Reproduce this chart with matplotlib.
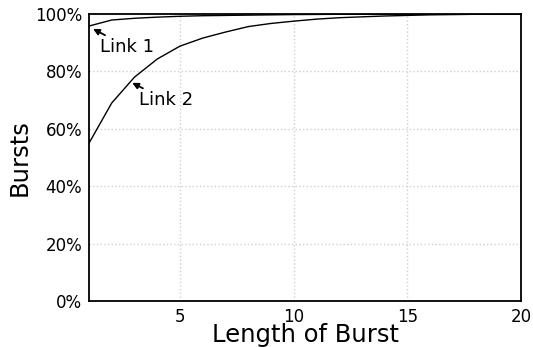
import matplotlib
matplotlib.use('Agg')
import matplotlib.pyplot as plt
from matplotlib.ticker import FuncFormatter

burst_len = [1, 2, 3, 4, 5, 6, 7, 8, 9, 10, 11, 12, 13, 14, 15, 16, 17, 18, 19, 20]
link1_pct = [95.8, 97.9, 98.5, 98.9, 99.2, 99.4, 99.5, 99.6, 99.7, 99.8,
             99.85, 99.9, 99.92, 99.95, 99.97, 99.98, 99.99, 100, 100, 100]
link2_pct = [55.0, 69.0, 78.0, 84.3, 88.8, 91.6, 93.7, 95.6, 96.7, 97.5,
             98.2, 98.7, 99.0, 99.3, 99.5, 99.7, 99.8, 99.9, 99.95, 100]

fig = plt.figure(figsize=(5.33, 3.47), dpi=100)
ax = fig.add_axes([0.167, 0.1326, 0.8105, 0.8271])

ax.plot(burst_len, link1_pct, color='black', lw=1)
ax.plot(burst_len, link2_pct, color='black', lw=1)

ax.set_xlim(1, 20)
ax.set_ylim(0, 100)
ax.set_xticks([5, 10, 15, 20])
ax.set_yticks([0, 20, 40, 60, 80, 100])
ax.yaxis.set_major_formatter(FuncFormatter(lambda v, p: '%d%%' % v))
ax.tick_params(length=0, labelsize=12, pad=5)
ax.grid(True, color='#d0d0d0', linestyle=':', lw=1)
for s in ax.spines.values():
    s.set_linewidth(1.3)

arrow = dict(arrowstyle='-|>', mutation_scale=9, facecolor='navy',
             edgecolor='black', lw=1.3, shrinkA=0, shrinkB=0)
ax.annotate('Link 1', xy=(1.18, 94.8), xytext=(1.5, 88.5), fontsize=13,
            va='center', ha='left', arrowprops=arrow)
ax.annotate('Link 2', xy=(2.9, 76), xytext=(3.2, 70), fontsize=13,
            va='center', ha='left', arrowprops=arrow)

ax.set_xlabel('Length of Burst', fontsize=17.5, labelpad=-2)
ax.set_ylabel('Bursts', fontsize=17.5, labelpad=2)

fig.savefig('out.png', dpi=100)
